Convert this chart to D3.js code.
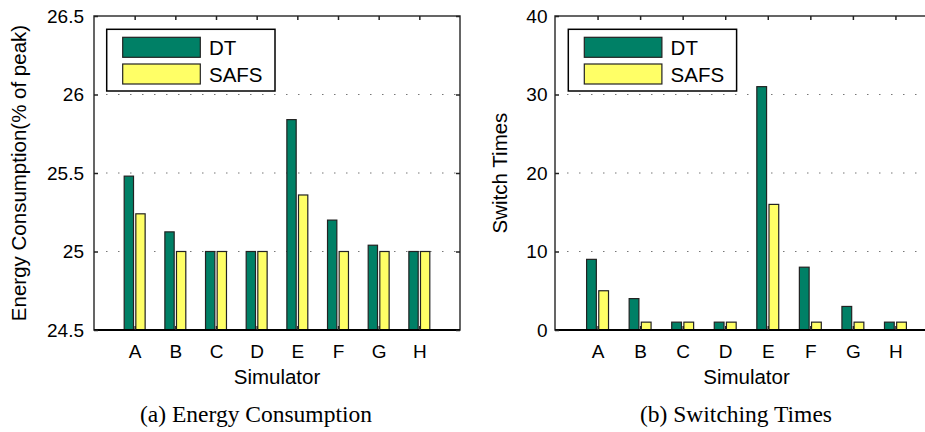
<!DOCTYPE html>
<html>
<head>
<meta charset="utf-8">
<script src="https://cdn.jsdelivr.net/npm/d3@7"></script>
<style>
  body { margin: 0; background: #fff; }
  text { font-family: Arial, 'Liberation Sans', sans-serif; fill: #000; }
  .caption { font-family: 'Liberation Serif', 'Times New Roman', serif; }
</style>
</head>
<body>
<script>
var width = 925,
    height = 432

var simulators = ['A', 'B', 'C', 'D', 'E', 'F', 'G', 'H']
var seriesNames = ['DT', 'SAFS']
var colors = ['#008066', '#ffff66']

var energyDT   = [25.48, 25.125, 25, 25, 25.84, 25.2, 25.04, 25]
var energySAFS = [25.24, 25, 25, 25, 25.36, 25, 25, 25]
var energyTicks = [24.5, 25, 25.5, 26, 26.5]

var switchDT   = [9, 4, 1, 1, 31, 8, 3, 1]
var switchSAFS = [5, 1, 1, 1, 16, 1, 1, 1]
var switchTicks = [0, 10, 20, 30, 40]

var svg = d3.select('body').append('svg')
    .attr('width', width)
    .attr('height', height)

var panels = [
  {
    left: 94, right: 460, domain: [24.5, 26.5], ticks: energyTicks, tickFmt: d3.format('~g'),
    series: [energyDT, energySAFS], ylabel: 'Energy Consumption(% of peak)', ylabelX: 26,
    caption: '(a) Energy Consumption', captionX: 256, legendX: 106.7, pad: 10
  },
  {
    left: 555, right: 938, domain: [0, 40], ticks: switchTicks, tickFmt: d3.format('d'),
    series: [switchDT, switchSAFS], ylabel: 'Switch Times', ylabelX: 506.5,
    caption: '(b) Switching Times', captionX: 736, legendX: 568.3, pad: 7.5
  }
]

var plotTop = 16, plotBottom = 330

panels.forEach(function(p) {
  var g = svg.append('g')

  var x = d3.scaleLinear().domain([0, simulators.length + 1]).range([p.left, p.right])
  var y = d3.scaleLinear().domain(p.domain).range([plotBottom, plotTop])

  // dotted grid
  g.selectAll('line.grid')
    .data(p.ticks.slice(1, -1))
    .enter().append('line')
      .attr('x1', p.left + 12).attr('x2', p.right)
      .attr('y1', function(d) { return y(d) }).attr('y2', function(d) { return y(d) })
      .attr('stroke', '#777')
      .attr('stroke-width', 1)
      .attr('stroke-dasharray', '1.5,10.5')

  // bars (grouped like matlab: offset +-0.143, width 0.229)
  var off = [-0.143, 0.143], bw = 0.229
  p.series.forEach(function(vals, s) {
    g.selectAll('rect.s' + s)
      .data(vals)
      .enter().append('rect')
        .attr('x', function(d, i) { return x(i + 1 + off[s] - bw / 2) })
        .attr('width', x(bw) - x(0))
        .attr('y', function(d) { return y(d) })
        .attr('height', function(d) { return y(p.domain[0]) - y(d) })
        .attr('fill', colors[s])
        .attr('stroke', '#222')
        .attr('stroke-width', 1.2)
  })

  // box
  g.append('rect')
    .attr('x', p.left).attr('y', plotTop)
    .attr('width', p.right - p.left).attr('height', plotBottom - plotTop)
    .attr('fill', 'none').attr('stroke', '#333').attr('stroke-width', 1.5)
  g.append('line')
    .attr('x1', p.left).attr('x2', p.right)
    .attr('y1', plotBottom).attr('y2', plotBottom)
    .attr('stroke', '#000').attr('stroke-width', 2)

  // y axis on the left, ticks inward
  var yAxis = g.append('g')
    .attr('transform', 'translate(' + p.left + ',0)')
    .call(d3.axisLeft(y).tickValues(p.ticks).tickFormat(p.tickFmt).tickSize(-4).tickPadding(p.pad))
  yAxis.select('.domain').remove()
  yAxis.selectAll('text').style('font-size', '19px').attr('font-family', null)

  var yAxisR = g.append('g')
    .attr('transform', 'translate(' + p.right + ',0)')
    .call(d3.axisRight(y).tickValues(p.ticks).tickSize(-4).tickFormat(''))
  yAxisR.select('.domain').remove()

  // x axis labels, ticks inward at top
  var xAxis = g.append('g')
    .attr('transform', 'translate(0,' + plotBottom + ')')
    .call(d3.axisBottom(x).tickValues(d3.range(1, simulators.length + 1))
      .tickFormat(function(d) { return simulators[d - 1] }).tickSize(-4).tickPadding(28))
  xAxis.select('.domain').remove()
  xAxis.selectAll('text').style('font-size', '19px').attr('dy', null).attr('font-family', null)

  var xAxisT = g.append('g')
    .attr('transform', 'translate(0,' + plotTop + ')')
    .call(d3.axisTop(x).tickValues(d3.range(1, simulators.length + 1)).tickSize(-4).tickFormat(''))
  xAxisT.select('.domain').remove()

  g.selectAll('.tick line').attr('stroke', '#222').attr('stroke-width', 1.5)

  // axis titles
  g.append('text')
    .attr('x', (p.left + p.right) / 2)
    .attr('y', 384)
    .attr('text-anchor', 'middle')
    .style('font-size', '20.5px')
    .text('Simulator')

  g.append('text')
    .attr('transform', 'translate(' + p.ylabelX + ',' + (plotTop + plotBottom) / 2 + ') rotate(-90)')
    .attr('text-anchor', 'middle')
    .style('font-size', '20.5px')
    .text(p.ylabel)

  g.append('text')
    .attr('class', 'caption')
    .attr('x', p.captionX)
    .attr('y', 422)
    .attr('text-anchor', 'middle')
    .style('font-size', '23.5px')
    .text(p.caption)

  // legend
  var lg = g.append('g').attr('transform', 'translate(' + p.legendX + ',29.3)')
  lg.append('rect')
    .attr('width', 168.3).attr('height', 61.7)
    .attr('fill', '#fff').attr('stroke', '#000').attr('stroke-width', 1.5)
  seriesNames.forEach(function(name, s) {
    lg.append('rect')
      .attr('x', 16).attr('y', 8 + s * 26.7)
      .attr('width', 77.6).attr('height', 20)
      .attr('fill', colors[s]).attr('stroke', '#222').attr('stroke-width', 1.2)
    lg.append('text')
      .attr('x', 102.3).attr('y', 25.7 + s * 26.7)
      .style('font-size', '20.5px')
      .text(name)
  })
})
</script>
</body>
</html>
